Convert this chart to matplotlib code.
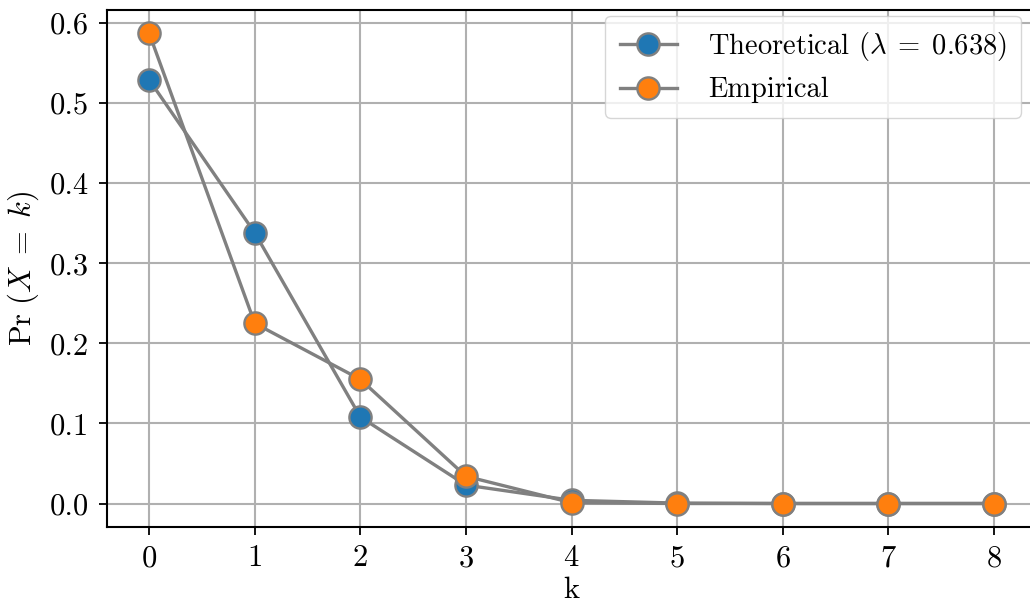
import matplotlib
matplotlib.use("Agg")
import matplotlib.pyplot as plt

plt.rcParams["font.family"] = ["cmr10", "DejaVu Serif"]
plt.rcParams["mathtext.fontset"] = "cm"
plt.rcParams["axes.formatter.use_mathtext"] = True
plt.rcParams["font.size"] = 22

k_values = [0, 1, 2, 3, 4, 5, 6, 7, 8]
theoretical = [0.529, 0.338, 0.108, 0.023, 0.004, 0.0005, 0.0, 0.0, 0.0]
empirical = [0.587, 0.225, 0.155, 0.034, 0.001, 0.0, 0.0, 0.0, 0.0]
lam = 0.638

fig = plt.figure(figsize=(10.30, 6.06), dpi=100)
ax = fig.add_axes([107 / 1030, 1 - 527 / 606, (1036 - 107) / 1030, (527 - 10) / 606])

style = dict(color="#808080", linewidth=2.4, marker="o", markersize=16,
             markeredgecolor="#808080", markeredgewidth=1.7)
ax.plot(k_values, theoretical, markerfacecolor="#1f77b4",
        label=rf"Theoretical ($\lambda\;=\;{lam}$)", **style)
ax.plot(k_values, empirical, markerfacecolor="#ff7f0e",
        label="Empirical", **style)

ax.set_xticks(k_values)
ax.set_yticks([0.0, 0.1, 0.2, 0.3, 0.4, 0.5, 0.6])
ax.yaxis.set_major_formatter(matplotlib.ticker.FormatStrFormatter("%.1f"))
ax.grid(True, color="#b0b0b0", linewidth=1.5)
ax.set_axisbelow(True)
ax.tick_params(direction="out", length=6, width=1.3, pad=7)
for s in ax.spines.values():
    s.set_linewidth(1.5)

ax.set_xlabel("k", labelpad=3)
ax.set_ylabel(r"$\mathrm{Pr}\ (X\;=\;k)$", labelpad=6)
ax.legend(loc="upper right", framealpha=0.8, handlelength=2.0, fontsize=20.5,
          borderaxespad=0.2, labelspacing=0.5, borderpad=0.5, handletextpad=1.1,
          bbox_to_anchor=(0.99, 1.0), bbox_transform=ax.transAxes)

fig.savefig("out.png", dpi=100)
